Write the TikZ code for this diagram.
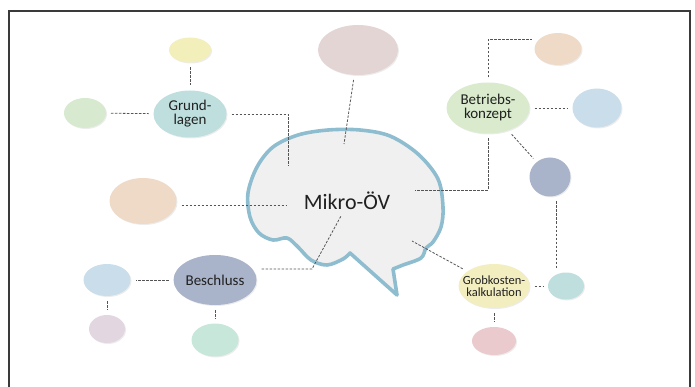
\documentclass[tikz,border=0pt]{standalone}
\usepackage{fontspec}
\setmainfont{Carlito}
\usetikzlibrary{positioning,shapes.geometric,shadows}

\definecolor{txtgray}{HTML}{202020}
\definecolor{linkgray}{HTML}{555555}
\definecolor{framegray}{HTML}{3A3A3A}
\definecolor{bubbleblue}{HTML}{8FBDD0}
\definecolor{bubblegray}{HTML}{F0F0F0}
\definecolor{cyellow}{HTML}{F3EFBA}
\definecolor{cgreen}{HTML}{D7EACF}
\definecolor{cteal}{HTML}{BFDFDE}
\definecolor{cmauve}{HTML}{E4D5D5}
\definecolor{cpeach}{HTML}{EEDAC7}
\definecolor{cleaf}{HTML}{D9EBCC}
\definecolor{cblue}{HTML}{C9DDEA}
\definecolor{cslate}{HTML}{A9B3C9}
\definecolor{csand}{HTML}{F3EEBF}
\definecolor{cpink}{HTML}{EBCACE}
\definecolor{clilac}{HTML}{E2D7E1}
\definecolor{cmint}{HTML}{C7E7DA}

\begin{document}
\begin{tikzpicture}[x=1pt,y=-1pt,
    blob/.style={ellipse,fill=#1,inner sep=0pt,outer sep=5pt,
      drop shadow={shadow xshift=1pt,shadow yshift=-1pt,opacity=.15}},
    txt/.style={font=\fontsize{15}{14}\selectfont,align=center,text=txtgray},
    link/.style={draw=linkgray,line width=.8pt,dash pattern=on 2.5pt off 1.5pt}]
  \useasboundingbox (0,0) rectangle (695,387);
  \draw[framegray,line width=1.2pt] (9,387) -- (9,11) -- (690,11) -- (690,387);

  % speech bubble
  \draw[line width=3.6pt,draw=bubbleblue,fill=bubblegray,line join=round]
    (397,295) -- plot[smooth,tension=.55] coordinates {(393,269) (403,265)
      (421,258) (426,248) (433,242) (441,227) (443,207) (438,179) (418,154)
      (390,136) (360,130) (328,130) (298,135) (273,147) (257,167) (248,193)
      (250,217) (259,233) (273,240) (287,238) (298,247) (311,260) (327,265)
      (343,259) (350,253)} -- cycle;
  \node[font=\fontsize{22}{26}\selectfont,text=txtgray] (mikro) at (347,201) {Mikro-ÖV};

  % main topics
  \node[blob=cteal,minimum width=73,minimum height=47,
    label={[txt]center:Grund-\\lagen}] (grund) at (190,114) {};
  \node[blob=cleaf,minimum width=83,minimum height=51,
    label={[txt]center:Betriebs-\\konzept}] (betr) at (488,108) {};
  \node[blob=cslate,minimum width=83,minimum height=50,
    label={[txt]center:Beschluss}] (besch) at (215,280) {};
  \node[blob=csand,minimum width=71,minimum height=44,
    label={[txt,font=\fontsize{12.5}{12}\selectfont]center:Grobkosten-\\kalkulation}] (grob) at (494,286) {};

  % small blobs
  \node[blob=cyellow,minimum width=42,minimum height=25] (g1) at (190,50) {};
  \node[blob=cgreen,minimum width=42,minimum height=30] (g2) at (85,113) {};
  \node[blob=cmauve,minimum width=80,minimum height=50] (m1) at (358,50) {};
  \node[blob=cpeach,minimum width=67,minimum height=46] (m2) at (143,201) {};
  \node[blob=cpeach,minimum width=47,minimum height=32] (b1) at (558,49) {};
  \node[blob=cblue,minimum width=49,minimum height=39] (b2) at (597,108) {};
  \node[blob=cslate,minimum width=41,minimum height=39] (b3) at (550,177) {};
  \node[blob=cteal,minimum width=36,minimum height=27] (k1) at (566,286) {};
  \node[blob=cpink,minimum width=44,minimum height=28] (k2) at (494,341) {};
  \node[blob=cblue,minimum width=47,minimum height=32] (s1) at (107,280) {};
  \node[blob=clilac,minimum width=36,minimum height=28] (s2) at (107,329) {};
  \node[blob=cmint,minimum width=47,minimum height=33] (s3) at (215,340) {};

  % ends inside the bubble
  \coordinate (cgrund) at (288,166);
  \coordinate (cm1) at (344,144);
  \coordinate (cm2) at (287,205);
  \coordinate (cbetr) at (415,190);
  \coordinate (cgrob) at (412,241);
  \coordinate (kbesch) at (312,269);
  \coordinate (cbesch) at (341,216);
  \coordinate (kslate) at (556,0);

  \foreach \a/\b in {g1/grund,g2/grund,betr/b2,betr/b3,grob/k1,grob/k2,
      besch/s1,s1/s2,besch/s3} {
    \draw[link] (\a) -- (\b);
  }
  \draw[link] (grund.east) -| (cgrund);
  \draw[link] (m1) -- (cm1);
  \draw[link] (cm2 -| m2.east) -- (cm2);
  \draw[link] (betr.north) |- (b1.160);
  \draw[link] (betr.south) |- (cbetr);
  \draw[link] (b3.south -| kslate) -- (k1.north -| kslate);
  \draw[link] (grob) -- (cgrob);
  \draw[link] (kbesch -| besch.east) -- (kbesch) -- (cbesch);
\end{tikzpicture}
\end{document}
